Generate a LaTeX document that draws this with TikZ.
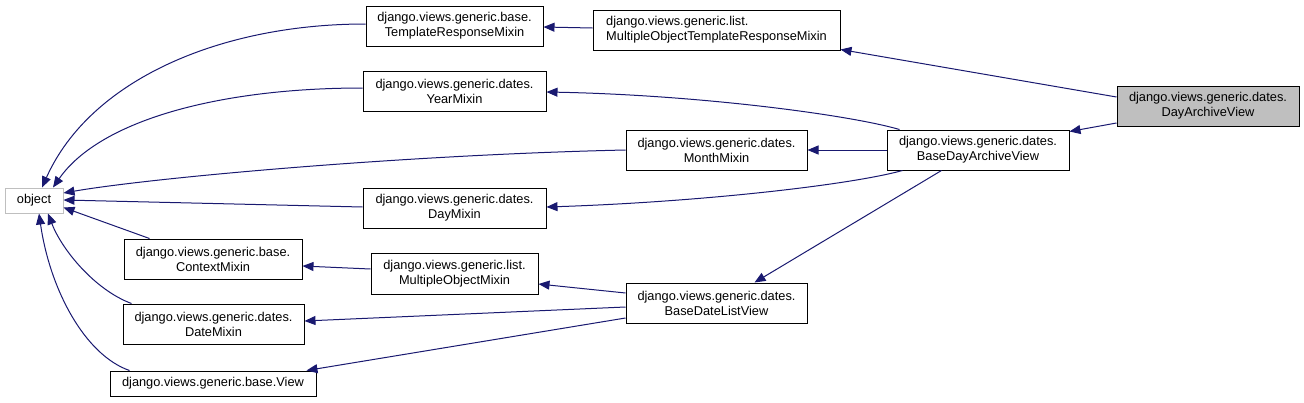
\documentclass[tikz,border=0pt]{standalone}
\usepackage{fontspec}
\setmainfont{Liberation Sans}
\usetikzlibrary{arrows.meta,calc}
\definecolor{edgeblue}{HTML}{191970}
\definecolor{objgray}{HTML}{BFBFBF}
\definecolor{hlgray}{HTML}{BFBFBF}
\tikzset{
  cls/.style={draw=black, line width=1pt, inner sep=0pt, align=center, font=\fontsize{12.8}{15}\selectfont},
  inh/.style={draw=edgeblue, line width=1pt, -{Triangle[length=11pt,width=9pt]}, color=edgeblue},
}
\begin{document}
\begin{tikzpicture}[x=1pt,y=-1pt]
\useasboundingbox (0,0) rectangle (1304,402);
\node[cls, draw=objgray, minimum width=58pt, minimum height=25pt] (obj) at (34,200.5) {object};
\node[cls, minimum width=177pt, minimum height=40pt] (trm) at (454.5,26) {django.views.generic.base.\\TemplateResponseMixin};
\node[cls, align=left, minimum width=247pt, minimum height=40pt] (motrm) at (716.5,30) {django.views.generic.list.\\MultipleObjectTemplateResponseMixin};
\node[cls, minimum width=183pt, minimum height=40pt] (year) at (454.5,91) {django.views.generic.dates.\\YearMixin};
\node[cls, minimum width=181pt, minimum height=40pt] (month) at (716.5,150) {django.views.generic.dates.\\MonthMixin};
\node[cls, minimum width=183pt, minimum height=40pt] (day) at (454.5,208) {django.views.generic.dates.\\DayMixin};
\node[cls, minimum width=182pt, minimum height=40pt] (bdav) at (978,150) {django.views.generic.dates.\\BaseDayArchiveView};
\node[cls, fill=hlgray, minimum width=182pt, minimum height=40pt] (dav) at (1208,106) {django.views.generic.dates.\\DayArchiveView};
\node[cls, minimum width=178pt, minimum height=40pt] (ctx) at (213,259) {django.views.generic.base.\\ContextMixin};
\node[cls, minimum width=167pt, minimum height=41pt] (mom) at (454.5,273.5) {django.views.generic.list.\\MultipleObjectMixin};
\node[cls, minimum width=181pt, minimum height=40pt] (date) at (213.5,324) {django.views.generic.dates.\\DateMixin};
\node[cls, minimum width=206pt, minimum height=25pt] (view) at (213,383.5) {django.views.generic.base.View};
\node[cls, minimum width=181pt, minimum height=40pt] (bdlv) at (716.5,303) {django.views.generic.dates.\\BaseDateListView};

% edges to object
\draw[inh] ($(trm.west)+(0,-2)$) .. controls (220,24) and (90,80) .. ($(obj.north)+(8,0)$);
\draw[inh] ($(year.west)+(0,-3)$) .. controls (220,88) and (100,120) .. ($(obj.north)+(19,0)$);
\draw[inh] (month.west) .. controls (400,155) and (150,178) .. ($(obj.east)+(0,-7.5)$);
\draw[inh] ($(day.west)+(0,-1)$) -- ($(obj.east)+(0,-0.5)$);
\draw[inh] ($(ctx.north west)+(26,0)$) -- ($(obj.south east)+(0,-6)$);
\draw[inh] ($(date.north west)+(9,0)$) .. controls (95,290) and (62,250) .. ($(obj.south)+(14,0)$);
\draw[inh] ($(view.north west)+(20,0)$) .. controls (85,355) and (50,290) .. ($(obj.south)+(5,0)$);

% other edges
\draw[inh] ($(motrm.west)+(0,-2)$) -- ($(trm.east)+(0,1)$);
\draw[inh] ($(dav.west)+(0,-9)$) -- ($(motrm.south east)+(0,-1)$);
\draw[inh] ($(dav.west)+(0,17)$) -- ($(bdav.north east)+(0,2)$);
\draw[inh] ($(bdav.north west)+(13,0)$) .. controls (850,115) and (700,95) .. ($(year.east)+(0,1)$);
\draw[inh] (bdav.west) -- (month.east);
\draw[inh] ($(bdav.south west)+(16,0)$) .. controls (850,185) and (700,202) .. ($(day.east)+(0,-1)$);
\draw[inh] ($(bdav.south west)+(55,0)$) -- ($(bdlv.north)+(38,0)$);
\draw[inh] ($(mom.west)+(0,-4.5)$) -- ($(ctx.east)+(0,7)$);
\draw[inh] ($(bdlv.west)+(0,-10)$) -- ($(mom.east)+(0,10.5)$);
\draw[inh] ($(bdlv.west)+(0,4)$) -- ($(date.east)+(0,-3)$);
\draw[inh] ($(bdlv.west)+(0,15)$) -- ($(view.north east)+(-10,0)$);
\end{tikzpicture}
\end{document}
